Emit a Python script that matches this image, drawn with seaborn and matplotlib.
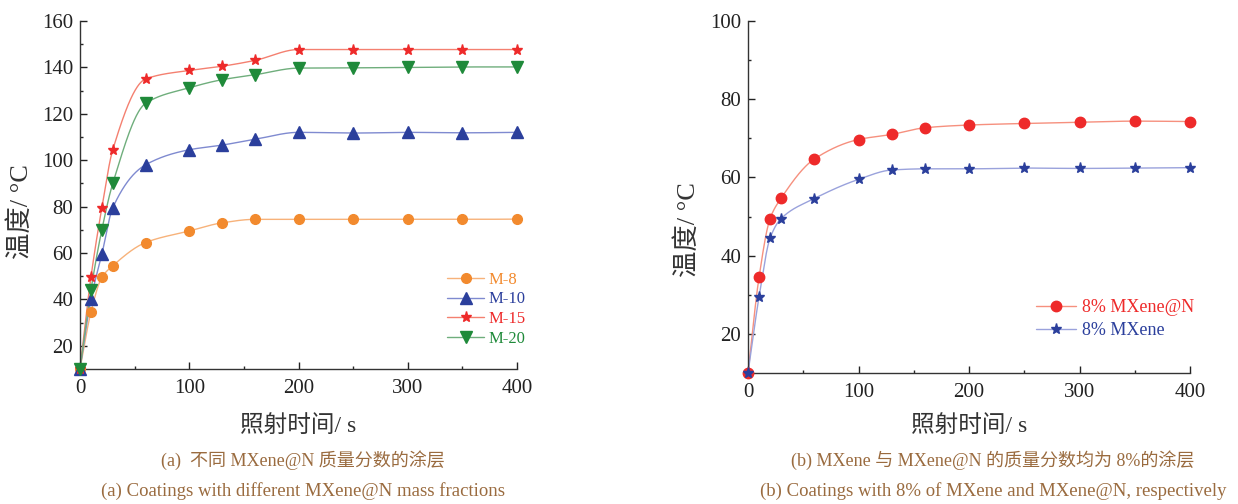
import numpy as np
import pandas as pd
import matplotlib
matplotlib.use("Agg")
import matplotlib.pyplot as plt
import seaborn as sns
from matplotlib.ticker import MultipleLocator

# irradiation time (s)
time_s = [0, 10, 20, 30, 60, 100, 130, 160, 200, 250, 300, 350, 400]

# (a) different MXene@N mass fractions
m8 = [10, 34.5, 49.5, 54.5, 64.5, 69.5, 73.0, 74.5, 74.5, 74.5, 74.5, 74.5, 74.6]
m10 = [10, 40.0, 59.5, 79.5, 98.0, 104.5, 106.5, 109.0, 112.0, 111.7, 112.0, 111.8, 112.0]
m15 = [10, 49.5, 79.5, 104.5, 135.0, 138.7, 140.5, 143.0, 147.7, 147.7, 147.7, 147.7, 147.7]
m20 = [10, 44.0, 70.0, 90.0, 124.5, 131.2, 134.7, 136.8, 139.7, 139.8, 140.0, 140.2, 140.2]

# (b) 8% MXene@N vs 8% MXene
mxn8 = [10, 34.5, 49.5, 54.7, 64.7, 69.7, 71.0, 72.7, 73.4, 73.8, 74.1, 74.4, 74.3]
mx8 = [10, 29.5, 44.5, 49.5, 54.6, 59.5, 61.9, 62.2, 62.2, 62.4, 62.3, 62.4, 62.5]

sns.set_style("ticks")
plt.rcParams['font.family'] = ['Liberation Serif', 'Noto Sans CJK SC']

brown = '#9a6b3f'


def pchip(x, y, xs):
    # monotone cubic used only for drawing the smooth connecting line
    x = np.asarray(x, float)
    y = np.asarray(y, float)
    h = np.diff(x)
    d = np.diff(y) / h
    m = np.zeros_like(y)
    for k in range(1, len(x) - 1):
        if d[k - 1] * d[k] > 0:
            w1 = 2 * h[k] + h[k - 1]
            w2 = h[k] + 2 * h[k - 1]
            m[k] = (w1 + w2) / (w1 / d[k - 1] + w2 / d[k])
    m[0] = d[0]
    m[-1] = d[-1]
    idx = np.clip(np.searchsorted(x, xs) - 1, 0, len(x) - 2)
    t = (xs - x[idx]) / h[idx]
    h00 = 2 * t**3 - 3 * t**2 + 1
    h10 = t**3 - 2 * t**2 + t
    h01 = -2 * t**3 + 3 * t**2
    h11 = t**3 - t**2
    return h00 * y[idx] + h10 * h[idx] * m[idx] + h01 * y[idx + 1] + h11 * h[idx] * m[idx + 1]


def draw(ax, series, ymax, leg_kw, ylab_pos, xlab_y):
    xs = np.linspace(time_s[0], time_s[-1], 800)
    handles = []
    for label, vals, lc, mc, mk, ms in series:
        smooth = pd.DataFrame({'t': xs, 'v': pchip(time_s, vals, xs)})
        sns.lineplot(data=smooth, x='t', y='v', ax=ax, color=lc, lw=1.0, zorder=2)
        ax.plot(time_s, vals, ls='none', marker=mk, ms=ms, color=mc,
                markeredgecolor=mc, zorder=3, clip_on=False)
        h, = ax.plot([], [], color=lc, lw=1.0, marker=mk, ms=ms,
                     markerfacecolor=mc, markeredgecolor=mc, label=label)
        handles.append((h, mc))
    ax.set_xlim(0, 400)
    ax.set_ylim(10, ymax)
    ax.xaxis.set_major_locator(MultipleLocator(100))
    ax.xaxis.set_minor_locator(MultipleLocator(50))
    ax.yaxis.set_minor_locator(MultipleLocator(10))
    ax.set_yticks(np.arange(20, ymax + 1, 20))
    ax.tick_params(which='major', direction='in', length=5, width=1,
                   labelsize=15, colors='#222222')
    ax.tick_params(axis='x', which='major', pad=7)
    ax.tick_params(axis='y', which='major', pad=5)
    ax.tick_params(which='minor', direction='in', length=2.5, width=1)
    sns.despine(ax=ax)
    for s in ('left', 'bottom'):
        ax.spines[s].set_linewidth(1.0)
        ax.spines[s].set_color('#333333')
    ax.set_xlabel('照射时间/ s', fontsize=17, color='#333333')
    ax.xaxis.set_label_coords(0.5, xlab_y)
    ax.set_ylabel('温度/ °C', fontsize=19, color='#333333')
    ax.yaxis.set_label_coords(*ylab_pos)
    leg = ax.legend(handles=[h for h, _ in handles], loc='lower right',
                    frameon=False, handlelength=2.2, handletextpad=0.3,
                    **leg_kw)
    for txt, (_, mc) in zip(leg.get_texts(), handles):
        txt.set_color(mc)


fig = plt.figure(figsize=(12.38, 5.04), dpi=100)
ax1 = fig.add_axes([80 / 1238, 1 - 369 / 504, 437 / 1238, 348 / 504])
ax2 = fig.add_axes([748 / 1238, 1 - 373 / 504, 442 / 1238, 352 / 504])

draw(ax1, [
    ('M-8', m8, '#f7b27a', '#f28a2e', 'o', 7),
    ('M-10', m10, '#7f8ad0', '#2b3f9c', '^', 8),
    ('M-15', m15, '#f48070', '#ee2a2a', '*', 8),
    ('M-20', m20, '#6fae7c', '#1f8a3a', 'v', 8),
], 160, dict(fontsize=12, labelspacing=0.23, bbox_to_anchor=(1.055, 0.02)),
    (-0.107, 0.453), -0.132)

draw(ax2, [
    ('8% MXene@N', mxn8, '#f6907e', '#ee2a2a', 'o', 7.5),
    ('8% MXene', mx8, '#9aa2dc', '#2b3f9c', '*', 8),
], 100, dict(fontsize=13, labelspacing=0.35, bbox_to_anchor=(1.045, 0.05)),
    (-0.109, 0.407), -0.119)

fig.text(0.245, 0.087, '(a)  不同 MXene@N 质量分数的涂层', ha='center', va='center',
         fontsize=13, color=brown)
fig.text(0.245, 0.026, '(a) Coatings with different MXene@N mass fractions', ha='center',
         va='center', fontsize=13.5, color=brown)
fig.text(0.802, 0.087, '(b) MXene 与 MXene@N 的质量分数均为 8%的涂层', ha='center',
         va='center', fontsize=13, color=brown)
fig.text(0.802, 0.026, '(b) Coatings with 8% of MXene and MXene@N, respectively',
         ha='center', va='center', fontsize=13.5, color=brown)

fig.savefig('out.png', dpi=100)
